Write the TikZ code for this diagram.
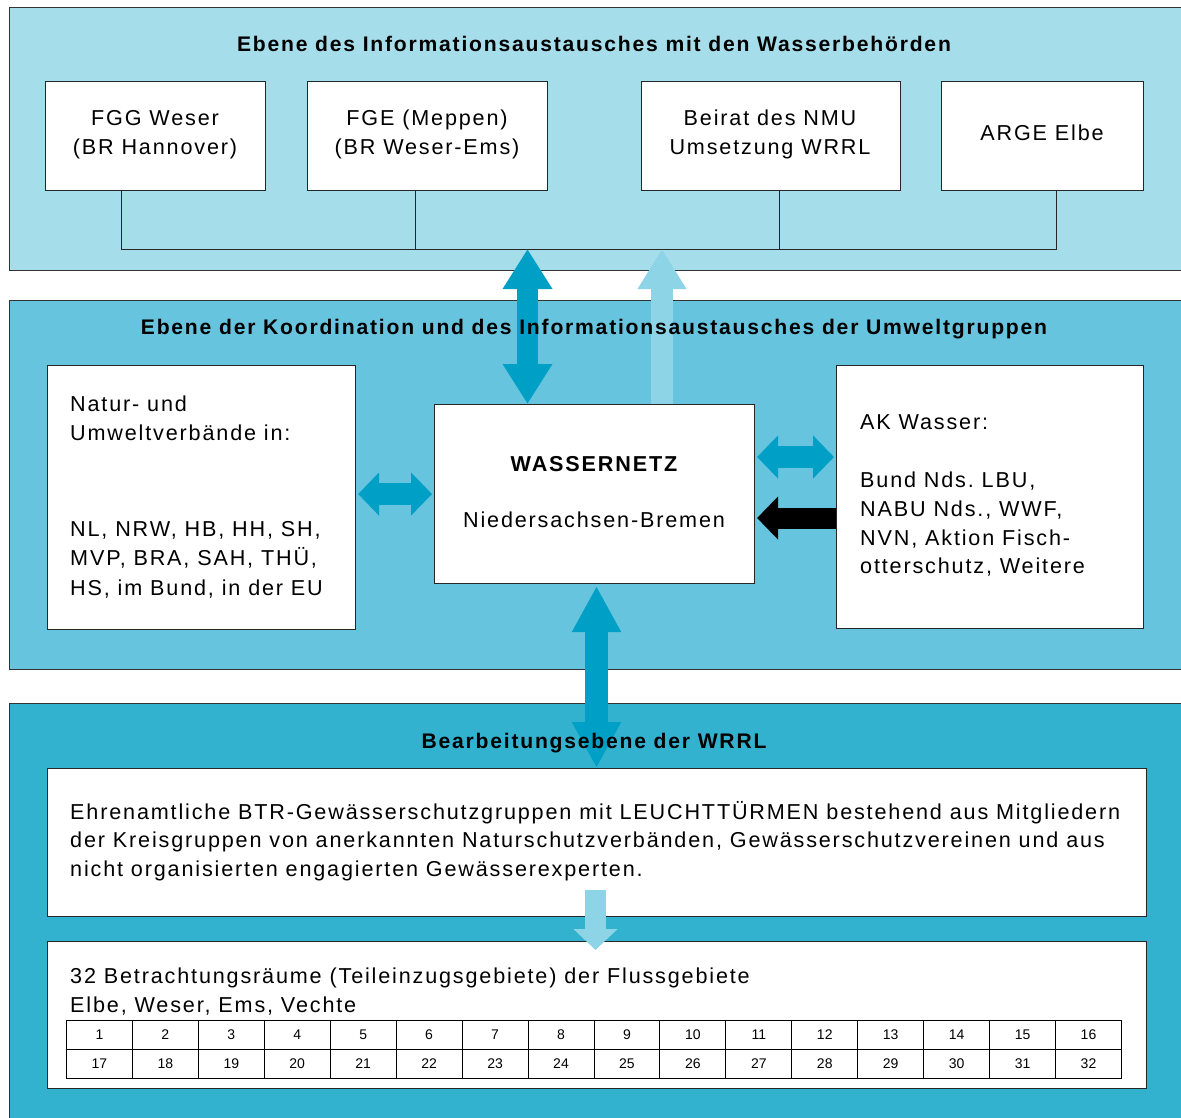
\documentclass[tikz,border=0pt]{standalone}
\usepackage{fontspec}
\setmainfont{Liberation Sans}[LetterSpace=8.5]
\newfontfamily\numfont{Liberation Sans}
\usetikzlibrary{arrows.meta,calc}
\definecolor{topbg}{HTML}{A6DDEA}
\definecolor{midbg}{HTML}{66C4DE}
\definecolor{botbg}{HTML}{33B2D0}
\definecolor{darkar}{HTML}{00A0C6}
\definecolor{lightar}{HTML}{8DD4E6}
\frenchspacing
\begin{document}
\begin{tikzpicture}[x=1pt,y=-1pt,
  panel/.style={draw=black!80, line width=1.3pt, anchor=north west, inner sep=0pt},
  wbox/.style={draw=black!85, fill=white, line width=1.1pt, anchor=north west, inner sep=0pt},
  body/.style={font=\fontsize{21.6}{29}\selectfont, inner sep=0pt, anchor=base west},
  bodyc/.style={font=\fontsize{21.6}{29}\selectfont, inner sep=0pt, anchor=base},
  ttl/.style={font=\bfseries\fontsize{21.1}{24}\selectfont, inner sep=0pt, anchor=base},
  cell/.style={draw=black, line width=0.9pt, anchor=north west, inner sep=0pt, minimum width=65.94pt, minimum height=29pt, font=\numfont\fontsize{14}{16}\selectfont},
  bus/.style={draw=black!85, line width=1pt},
  vdark/.style={draw=darkar, line width=21pt, {Triangle[length=40pt,width=47pt]}-{Triangle[length=40pt,width=47pt]}},
  vlight/.style={draw=lightar, line width=22pt, -{Triangle[length=40pt,width=46pt]}},
  hdark/.style={draw=darkar, line width=22pt, {Triangle[length=21pt,width=42pt]}-{Triangle[length=21pt,width=42pt]}},
  hblack/.style={draw=black, line width=21pt, -{Triangle[length=21pt,width=42pt]}},
  vdarkb/.style={draw=darkar, line width=23pt, {Triangle[length=46pt,width=46pt]}-{Triangle[length=46pt,width=46pt]}},
  vlightb/.style={draw=lightar, line width=21pt, -{Triangle[length=21pt,width=43pt]}},
]
\useasboundingbox (0,0) rectangle (1181,1118);
\fill[white] (0,0) rectangle (1181,1118);

% panels
\node[panel, fill=topbg, minimum width=1175pt, minimum height=263pt] (ptop) at (9,7) {};
\node[panel, fill=midbg, minimum width=1175pt, minimum height=369pt] (pmid) at (9,300) {};
\node[panel, fill=botbg, minimum width=1175pt, minimum height=420pt] (pbot) at (9,703) {};

% titles
\node[ttl] (t1) at (594,52) {Ebene des Informationsaustausches mit den Wasserbehörden};

% top boxes
\node[wbox, minimum width=220pt, minimum height=109pt] (fgg) at (45,81) {};
\node[wbox, minimum width=240pt, minimum height=109pt] (fge) at (307,81) {};
\node[wbox, minimum width=259pt, minimum height=109pt] (nmu) at (641,81) {};
\node[wbox, minimum width=202pt, minimum height=109pt] (arge) at (941,81) {};
\node[bodyc] (fggt1) at (155,126) {FGG Weser};
\node[bodyc] (fggt2) at (155,155) {(BR Hannover)};
\node[bodyc] (fget1) at (427,126) {FGE (Meppen)};
\node[bodyc] (fget2) at (427,155) {(BR Weser-Ems)};
\node[bodyc] (nmut1) at (770,126) {Beirat des NMU};
\node[bodyc] (nmut2) at (770,155) {Umsetzung WRRL};
\node[bodyc] (argt) at (1042,141) {ARGE Elbe};

% bus
\coordinate (b1) at ($(fgg.south west)+(76,58)$);
\coordinate (b4) at ($(arge.south west)+(115,58)$);
\draw[bus] ($(fgg.south west)+(76,0)$) -- (b1) -- (b4) -- ($(arge.south west)+(115,0)$);
\draw[bus] ($(fge.south west)+(108,0)$) -- ($(fge.south west)+(108,58)$);
\draw[bus] ($(nmu.south west)+(138,0)$) -- ($(nmu.south west)+(138,58)$);

% middle boxes
\node[wbox, minimum width=308pt, minimum height=264pt] (nat) at (47,365) {};
\node[wbox, minimum width=320pt, minimum height=179pt] (wn) at (434,404) {};
\node[wbox, minimum width=307pt, minimum height=263pt] (ak) at (836,365) {};

\node[body] (n1) at (70,411) {Natur- und};
\node[body] (n2) at (70,440) {Umweltverbände in:};
\node[body] (n3) at (70,536) {NL, NRW, HB, HH, SH,};
\node[body] (n4) at (70,565) {MVP, BRA, SAH, THÜ,};
\node[body] (n5) at (70,595) {HS, im Bund, in der EU};

\node[font=\bfseries\fontsize{21.6}{24}\selectfont, inner sep=0pt, anchor=base] (wnt1) at (594,471) {WASSERNETZ};
\node[bodyc] (wnt2) at (594,527) {Niedersachsen-Bremen};

\node[body] (a1) at (860,429) {AK Wasser:};
\node[body] (a2) at (860,487) {Bund Nds. LBU,};
\node[body] (a3) at (860,516) {NABU Nds., WWF,};
\node[body] (a4) at (860,545) {NVN, Aktion Fisch-};
\node[body] (a5) at (860,573) {otterschutz, Weitere};

% arrows top/middle
\coordinate (up1) at (527.5,249);
\coordinate (up2) at (662,249);
\draw[vdark] (up1) -- ($(wn.north west)+(93.5,0)$);
\draw[vlight] ($(wn.north west)+(228,0)$) -- (up2);
\node[ttl] (t2) at (594,334) {Ebene der Koordination und des Informationsaustausches der Umweltgruppen};

\draw[hdark] ([xshift=2pt]nat.east |- wn.west) -- ([xshift=-2pt]wn.west);
\draw[hdark] ([xshift=2pt]wn.east |- 0,457) -- ([xshift=-2pt]ak.west |- 0,457);
\draw[hblack] (ak.west |- 0,518) -- ([xshift=2pt]wn.east |- 0,518);

% bottom boxes
\node[wbox, minimum width=1099pt, minimum height=148pt] (ehr) at (47,768) {};
\node[wbox, minimum width=1099pt, minimum height=147pt] (btr) at (47,941) {};

\draw[vdarkb] ($(wn.south west)+(162.5,2)$) -- ($(ehr.north west)+(549.5,0)$);
\node[ttl] (t3) at (594,748) {Bearbeitungsebene der WRRL};

\node[body] (e1) at (70,819) {Ehrenamtliche BTR-Gewässerschutzgruppen mit LEUCHTTÜRMEN bestehend aus Mitgliedern};
\node[body] (e2) at (70,847) {der Kreisgruppen von anerkannten Naturschutzverbänden, Gewässerschutzvereinen und aus};
\node[body] (e3) at (70,876) {nicht organisierten engagierten Gewässerexperten.};

\draw[vlightb] ($(ehr.south west)+(548.5,-27)$) -- ($(btr.north west)+(548.5,9)$);

\node[body] (r1) at (70,983) {32 Betrachtungsräume (Teileinzugsgebiete) der Flussgebiete};
\node[body] (r2) at (70,1012) {Elbe, Weser, Ems, Vechte};

\foreach \i in {1,...,16} {
  \pgfmathsetmacro{\cx}{66+(\i-1)*65.94}
  \pgfmathtruncatemacro{\j}{\i+16}
  \node[cell] (c\i) at (\cx,1020) {\i};
  \node[cell] (c\j) at (\cx,1049) {\j};
}
\end{tikzpicture}
\end{document}
